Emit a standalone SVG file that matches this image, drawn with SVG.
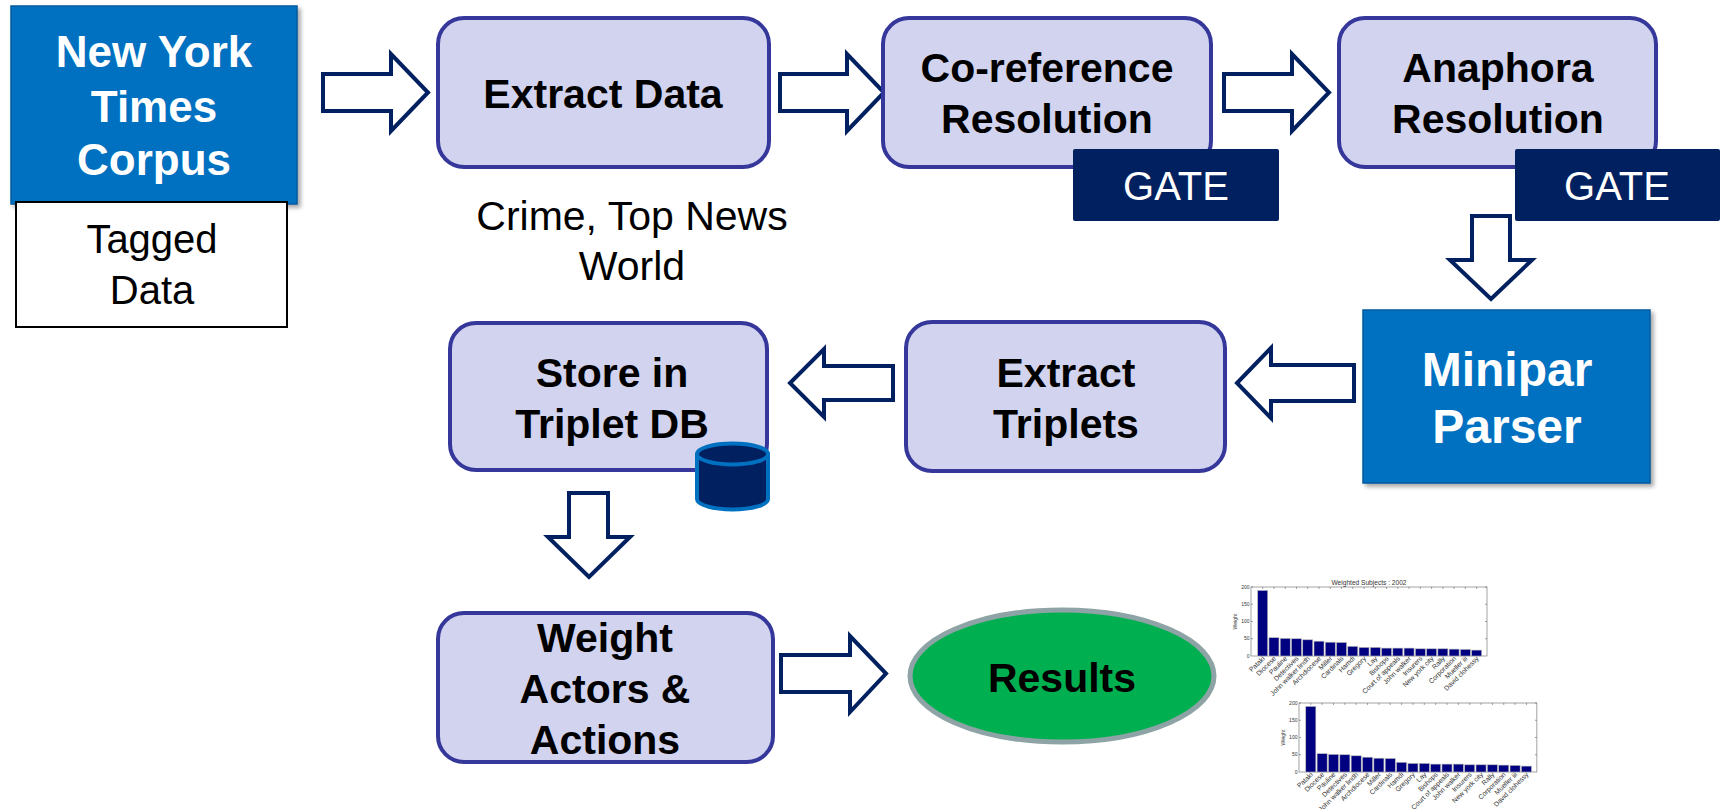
<svg xmlns="http://www.w3.org/2000/svg" xmlns:xlink="http://www.w3.org/1999/xlink" width="1721" height="809" viewBox="0 0 1721 809">
<style>
  text { font-family: "Liberation Sans", Arial, sans-serif; }
  .step { fill: #D1D3EF; stroke: #35379A; stroke-width: 4; }
  .lbl { font-size: 41px; font-weight: bold; fill: #000; text-anchor: middle; }
  .wlbl { font-size: 44px; font-weight: bold; fill: #fff; text-anchor: middle; }
  .reg { font-size: 41px; fill: #000; text-anchor: middle; }
  .gate { fill: #002060; }
  .gtxt { font-size: 40px; fill: #fff; text-anchor: middle; }
  .arrow { fill: #fff; stroke: #002060; stroke-width: 4; stroke-linejoin: miter; }
  .blue { fill: #0070C0; stroke: #005A9E; stroke-width: 1.5; }
  .bar { fill: #000080; stroke: #B8B8B8; stroke-width: 0.6; }
  .tk { font-size: 5px; fill: #333; text-anchor: end; }
  .xl { font-size: 6.8px; fill: #333; text-anchor: end; }
  .yl { font-size: 5.2px; fill: #333; text-anchor: middle; }
  .ct { font-size: 6.6px; fill: #333; text-anchor: middle; }
  .ax { fill: none; stroke: #666; stroke-width: 0.6; }
</style>
<defs>
  <filter id="sh" x="-10%" y="-10%" width="125%" height="125%">
    <feDropShadow dx="3" dy="3" stdDeviation="2" flood-color="#000" flood-opacity="0.35"/>
  </filter>
  <clipPath id="clip2" clipPathUnits="userSpaceOnUse">
    <rect x="1200" y="701" width="521" height="108"/>
  </clipPath>
  <g id="chart">
    <rect class="ax" x="0" y="0" width="236" height="69" fill="#fff"/>
    <g class="bars">
      <rect class="bar" x="6.7" y="3.45" width="10" height="65.55"/>
      <rect class="bar" x="17.96" y="50.7" width="10" height="18.3"/>
      <rect class="bar" x="29.22" y="51.4" width="10" height="17.6"/>
      <rect class="bar" x="40.48" y="51.75" width="10" height="17.25"/>
      <rect class="bar" x="51.74" y="52.8" width="10" height="16.2"/>
      <rect class="bar" x="63.0" y="54.2" width="10" height="14.8"/>
      <rect class="bar" x="74.26" y="55.2" width="10" height="13.8"/>
      <rect class="bar" x="85.52" y="55.5" width="10" height="13.5"/>
      <rect class="bar" x="96.78" y="59.3" width="10" height="9.7"/>
      <rect class="bar" x="108.04" y="60.4" width="10" height="8.6"/>
      <rect class="bar" x="119.3" y="60.4" width="10" height="8.6"/>
      <rect class="bar" x="130.56" y="61.1" width="10" height="7.9"/>
      <rect class="bar" x="141.82" y="61.1" width="10" height="7.9"/>
      <rect class="bar" x="153.08" y="61.1" width="10" height="7.9"/>
      <rect class="bar" x="164.34" y="61.8" width="10" height="7.2"/>
      <rect class="bar" x="175.6" y="61.8" width="10" height="7.2"/>
      <rect class="bar" x="186.86" y="61.8" width="10" height="7.2"/>
      <rect class="bar" x="198.12" y="62.1" width="10" height="6.9"/>
      <rect class="bar" x="209.38" y="62.4" width="10" height="6.6"/>
      <rect class="bar" x="220.64" y="63.1" width="10" height="5.9"/>
    </g>
    <path class="ax" d="M0,0 H2 M0,17.25 H2 M0,34.5 H2 M0,51.75 H2 M236,0 H234 M236,17.25 H234 M236,34.5 H234 M236,51.75 H234 M11.7,0 V2 M22.96,0 V2 M34.22,0 V2 M45.48,0 V2 M56.74,0 V2 M68,0 V2 M79.26,0 V2 M90.52,0 V2 M101.78,0 V2 M113.04,0 V2 M124.3,0 V2 M135.56,0 V2 M146.82,0 V2 M158.08,0 V2 M169.34,0 V2 M180.6,0 V2 M191.86,0 V2 M203.12,0 V2 M214.38,0 V2 M225.64,0 V2"/>
    <text class="tk" x="-1.5" y="1.7">200</text>
    <text class="tk" x="-1.5" y="18.95">150</text>
    <text class="tk" x="-1.5" y="36.2">100</text>
    <text class="tk" x="-1.5" y="53.45">50</text>
    <text class="tk" x="-1.5" y="70.7">0</text>
    <text class="yl" transform="translate(-14,34.5) rotate(-90)">Weight</text>
    <text class="xl" transform="translate(14.2,72) rotate(-45)">Pataki</text>
    <text class="xl" transform="translate(25.46,72) rotate(-45)">Diocese</text>
    <text class="xl" transform="translate(36.72,72) rotate(-45)">Pauline</text>
    <text class="xl" transform="translate(47.98,72) rotate(-45)">Detectives</text>
    <text class="xl" transform="translate(59.24,72) rotate(-45)">John walker lindh</text>
    <text class="xl" transform="translate(70.5,72) rotate(-45)">Archdiocese</text>
    <text class="xl" transform="translate(81.76,72) rotate(-45)">Miller</text>
    <text class="xl" transform="translate(93.02,72) rotate(-45)">Cardinals</text>
    <text class="xl" transform="translate(104.28,72) rotate(-45)">Hamdi</text>
    <text class="xl" transform="translate(115.54,72) rotate(-45)">Gregory</text>
    <text class="xl" transform="translate(126.8,72) rotate(-45)">Lay</text>
    <text class="xl" transform="translate(138.06,72) rotate(-45)">Bishops</text>
    <text class="xl" transform="translate(149.32,72) rotate(-45)">Court of appeals</text>
    <text class="xl" transform="translate(160.58,72) rotate(-45)">John walker</text>
    <text class="xl" transform="translate(171.84,72) rotate(-45)">Insurers</text>
    <text class="xl" transform="translate(183.1,72) rotate(-45)">New york city</text>
    <text class="xl" transform="translate(194.36,72) rotate(-45)">Rally</text>
    <text class="xl" transform="translate(205.62,72) rotate(-45)">Corporation</text>
    <text class="xl" transform="translate(216.88,72) rotate(-45)">Mueller iii</text>
    <text class="xl" transform="translate(228.14,72) rotate(-45)">David clohessy</text>
  </g>
</defs>

<rect width="1721" height="809" fill="#fff"/>

<g id="connectors">
  <polygon class="arrow" points="323,74 391,74 391,54 428,92.5 391,131 391,111 323,111"/>
  <polygon class="arrow" points="780,74 847,74 847,54 884,92.5 847,131 847,111 780,111"/>
  <polygon class="arrow" points="1224,74 1292,74 1292,54 1329,92.5 1292,131 1292,111 1224,111"/>
  <polygon class="arrow" points="1472,216 1510,216 1510,260 1532,260 1491,299 1450,260 1472,260"/>
  <polygon class="arrow" points="1354,365 1271,365 1271,348 1237,383 1271,418 1271,401 1354,401"/>
  <polygon class="arrow" points="893,366 824,366 824,349 790,383 824,417 824,400 893,400"/>
  <polygon class="arrow" points="569,493 608,493 608,537 630,537 589,577 548,537 569,537"/>
  <polygon class="arrow" points="781,655 850,655 850,636 886,673.5 850,712 850,692 781,692"/>
</g>

<g id="nyt">
  <rect class="blue" x="11" y="6" width="286" height="198" filter="url(#sh)"/>
  <text class="wlbl" x="154" y="67">New York</text>
  <text class="wlbl" x="154" y="122">Times</text>
  <text class="wlbl" x="154" y="175">Corpus</text>
</g>

<g id="tagged">
  <rect x="16" y="202" width="271" height="125" fill="#fff" stroke="#000" stroke-width="2"/>
  <text class="reg" x="152" y="253" style="font-size:40px">Tagged</text>
  <text class="reg" x="152" y="304" style="font-size:40px">Data</text>
</g>

<g id="extract-data">
  <rect class="step" x="438" y="18" width="331" height="149" rx="26"/>
  <text class="lbl" x="603" y="108">Extract Data</text>
</g>

<g id="crime-label">
  <text class="reg" x="632" y="230">Crime, Top News</text>
  <text class="reg" x="632" y="280">World</text>
</g>

<g id="coref">
  <rect class="step" x="883" y="18" width="328" height="149" rx="26"/>
  <text class="lbl" x="1047" y="82">Co-reference</text>
  <text class="lbl" x="1047" y="133">Resolution</text>
</g>

<g id="gate1">
  <rect class="gate" x="1073" y="149" width="206" height="72" rx="2"/>
  <text class="gtxt" x="1176" y="200">GATE</text>
</g>

<g id="anaphora">
  <rect class="step" x="1339" y="18" width="317" height="149" rx="26"/>
  <text class="lbl" x="1498" y="82">Anaphora</text>
  <text class="lbl" x="1498" y="133">Resolution</text>
</g>

<g id="gate2">
  <rect class="gate" x="1515" y="149" width="205" height="72" rx="2"/>
  <text class="gtxt" x="1617" y="200">GATE</text>
</g>

<g id="minipar">
  <rect class="blue" x="1363" y="310" width="287" height="173" filter="url(#sh)"/>
  <text class="wlbl" x="1507" y="386" style="font-size:48px">Minipar</text>
  <text class="wlbl" x="1507" y="443" style="font-size:48px">Parser</text>
</g>

<g id="extract-triplets">
  <rect class="step" x="906" y="322" width="319" height="149" rx="26"/>
  <text class="lbl" x="1066" y="387">Extract</text>
  <text class="lbl" x="1066" y="438">Triplets</text>
</g>

<g id="store">
  <rect class="step" x="450" y="323" width="317" height="147" rx="26"/>
  <text class="lbl" x="612" y="387">Store in</text>
  <text class="lbl" x="612" y="438">Triplet DB</text>
</g>

<g id="db-icon">
  <path d="M697,454 L697,499 A35.5,10.5 0 0 0 768,499 L768,454 Z" fill="#002060" stroke="#0070C0" stroke-width="4" stroke-linejoin="round"/>
  <ellipse cx="732.5" cy="454" rx="35.5" ry="10.5" fill="#002060" stroke="#0070C0" stroke-width="4"/>
</g>

<g id="weight">
  <rect class="step" x="438" y="613" width="335" height="149" rx="26"/>
  <text class="lbl" x="605" y="652">Weight</text>
  <text class="lbl" x="605" y="703">Actors &amp;</text>
  <text class="lbl" x="605" y="754">Actions</text>
</g>

<g id="results">
  <ellipse cx="1062" cy="676" rx="152" ry="66" fill="#00B050" stroke="#8EA3A5" stroke-width="5"/>
  <text class="lbl" x="1062" y="692">Results</text>
</g>

<g id="chart1">
  <use xlink:href="#chart" href="#chart" transform="translate(1251,587)"/>
  <text class="ct" x="1369" y="585">Weighted Subjects : 2002</text>
</g>

<g id="chart2" clip-path="url(#clip2)">
  <use xlink:href="#chart" href="#chart" transform="translate(1299,703) scale(1.008,1)"/>
</g>
</svg>
